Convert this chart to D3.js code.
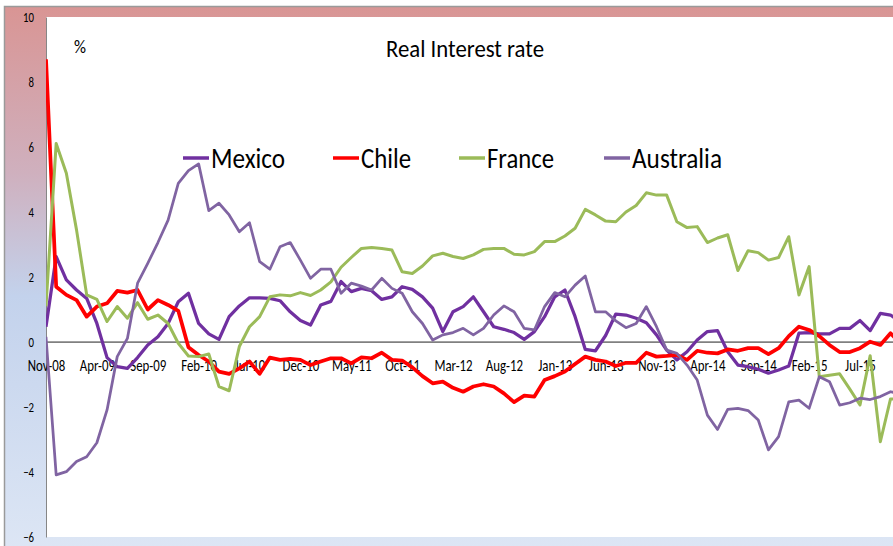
<!DOCTYPE html>
<html>
  <head>
    <title>Real Interest rate</title>
    <script src="https://d3js.org/d3.v7.min.js" charset="utf-8"></script>
    <style type="text/css">
      body { margin: 0; background: #ffffff; }
      text { font-family: Carlito, Calibri, Lato, sans-serif; fill: #000000; }
    </style>
  </head>

  <body>
    <script type="text/javascript">

      // Monthly data, Nov-08 onwards
      var mexico = [0.47, 2.63, 1.91, 1.6, 1.34, 0.57, -0.48, -0.76, -0.81, -0.48,
        -0.09, 0.16, 0.57, 1.24, 1.5, 0.57, 0.25, 0.08, 0.78, 1.11,
        1.36, 1.36, 1.34, 1.27, 0.93, 0.66, 0.52, 1.14, 1.25, 1.86,
        1.55, 1.65, 1.58, 1.31, 1.39, 1.7, 1.62, 1.39, 1.04, 0.32,
        0.93, 1.09, 1.39, 0.93, 0.47, 0.39, 0.29, 0.08, 0.32, 0.78,
        1.39, 1.6, 0.78, -0.23, -0.27, 0.2, 0.86, 0.83, 0.73, 0.59,
        0.22, -0.25, -0.55, -0.3, 0.06, 0.32, 0.35, -0.3, -0.71, -0.76,
        -0.84, -0.96, -0.86, -0.74, 0.27, 0.29, 0.25, 0.25, 0.42, 0.42,
        0.66, 0.35, 0.88, 0.83, 0.6];
      var chile = [8.7, 1.7, 1.45, 1.29, 0.78, 1.09, 1.19, 1.57, 1.52, 1.6,
        1.0, 1.29, 1.14, 0.96, -0.16, -0.4, -0.6, -0.91, -0.98, -0.81,
        -0.6, -0.98, -0.48, -0.55, -0.52, -0.55, -0.71, -0.6, -0.5, -0.5,
        -0.66, -0.47, -0.5, -0.33, -0.55, -0.57, -0.78, -1.05, -1.27, -1.22,
        -1.41, -1.53, -1.37, -1.3, -1.37, -1.58, -1.85, -1.65, -1.68, -1.17,
        -1.05, -0.91, -0.68, -0.45, -0.55, -0.6, -0.74, -0.64, -0.64, -0.33,
        -0.45, -0.43, -0.4, -0.55, -0.27, -0.33, -0.35, -0.23, -0.27, -0.19,
        -0.19, -0.37, -0.19, 0.18, 0.47, 0.37, 0.18, -0.09, -0.31, -0.31,
        -0.19, 0.01, -0.09, 0.27, -0.05];
      var france = [1.1, 6.11, 5.19, 3.45, 1.45, 1.31, 0.63, 1.09, 0.73, 1.21,
        0.7, 0.83, 0.57, -0.04, -0.43, -0.45, -0.37, -1.37, -1.5, -0.14,
        0.47, 0.78, 1.39, 1.45, 1.42, 1.52, 1.43, 1.6, 1.85, 2.3,
        2.6, 2.88, 2.91, 2.88, 2.83, 2.16, 2.11, 2.34, 2.65, 2.73,
        2.63, 2.57, 2.68, 2.85, 2.88, 2.88, 2.7, 2.68, 2.78, 3.09,
        3.09, 3.26, 3.5, 4.08, 3.91, 3.72, 3.7, 4.0, 4.2, 4.59,
        4.52, 4.52, 3.7, 3.52, 3.55, 3.06, 3.2, 3.3, 2.2, 2.81,
        2.75, 2.52, 2.6, 3.24, 1.45, 2.32, -1.07, -1.02, -0.98, -1.45,
        -1.94, -0.42, -3.07, -1.75, -1.75];
      var australia = [0.16, -4.09, -3.99, -3.68, -3.53, -3.1, -2.09, -0.45, 0.11, 1.81,
        2.42, 3.06, 3.75, 4.88, 5.27, 5.48, 4.04, 4.27, 3.91, 3.39,
        3.67, 2.47, 2.24, 2.93, 3.06, 2.52, 1.96, 2.24, 2.24, 1.5,
        1.81, 1.72, 1.6, 1.96, 1.65, 1.5, 0.93, 0.57, 0.06, 0.22,
        0.29, 0.42, 0.22, 0.42, 0.83, 1.11, 0.93, 0.42, 0.37, 1.09,
        1.52, 1.39, 1.75, 2.03, 0.93, 0.93, 0.65, 0.44, 0.57, 1.09,
        0.47, -0.25, -0.35, -0.71, -1.17, -2.25, -2.69, -2.07, -2.04, -2.11,
        -2.4, -3.32, -2.91, -1.84, -1.79, -2.04, -1.07, -1.22, -1.94, -1.87,
        -1.73, -1.77, -1.68, -1.53, -1.6];

      // category labels (one per month) and the ones shown on the axis
      var fmt = d3.timeFormat("%b-%y");
      var months = d3.timeMonth.range(new Date(2008, 10, 1), new Date(2015, 11, 1)).map(fmt);
      var tickLabels = ["Nov-08", "Apr-09", "Sep-09", "Feb-10", "Jul-10", "Dec-10", "May-11",
        "Oct-11", "Mar-12", "Aug-12", "Jan-13", "Jun-13", "Nov-13", "Apr-14", "Sep-14",
        "Feb-15", "Jul-15"];
      var yTicks = [-6, -4, -2, 0, 2, 4, 6, 8, 10];

      var series = [
        { name: "Mexico", values: mexico, color: "#7030A0", width: 3.25 },
        { name: "Chile", values: chile, color: "#FF0000", width: 3.75 },
        { name: "France", values: france, color: "#9BBB59", width: 3 },
        { name: "Australia", values: australia, color: "#8064A2", width: 2.75 }
      ];

      // note: "top" is taken by window.top, so use plot* names
      var width = 893, height = 546;
      var plotLeft = 46, plotTop = 17, plotBottom = 537;

      var svg = d3.select("body").append("svg")
          .attr("width", width)
          .attr("height", height);

      // background gradient (pink at the top, blue towards the bottom)
      var grad = svg.append("defs").append("linearGradient")
          .attr("id", "bg").attr("x1", 0).attr("y1", 0).attr("x2", 0).attr("y2", 1);
      grad.append("stop").attr("offset", "0%").attr("stop-color", "#D99594");
      grad.append("stop").attr("offset", "30%").attr("stop-color", "#CFB0BE");
      grad.append("stop").attr("offset", "52%").attr("stop-color", "#C3D2EC");
      grad.append("stop").attr("offset", "100%").attr("stop-color", "#DEE7F5");

      svg.append("clipPath").attr("id", "plotclip")
        .append("rect")
          .attr("x", plotLeft).attr("y", plotTop)
          .attr("width", width - plotLeft).attr("height", plotBottom - plotTop);

      svg.append("rect")
          .attr("x", 4.5).attr("y", 6.5)
          .attr("width", width + 10).attr("height", height + 10)
          .style("fill", "url(#bg)")
          .style("stroke", "#9A9A9A")
          .style("stroke-width", 1.5);

      svg.append("rect")
          .attr("x", plotLeft).attr("y", plotTop)
          .attr("width", width - plotLeft + 10).attr("height", plotBottom - plotTop)
          .style("fill", "#ffffff");

      // scales
      var x = d3.scalePoint()
          .domain(months)
          .range([plotLeft, plotLeft + 10.175 * (months.length - 1)]);

      var y = d3.scaleLinear()
          .domain([-6, 10])
          .range([plotBottom, plotTop]);

      // y axis
      var yAxis = svg.append("g")
          .attr("transform", "translate(" + plotLeft + ",0)")
          .call(d3.axisLeft(y).tickValues(yTicks).tickSize(0).tickPadding(0));
      yAxis.select(".domain").style("stroke", "#868686").style("stroke-width", 1);
      yAxis.selectAll("text")
          .attr("x", 0)
          .attr("transform", "translate(-12,0) scale(0.8,1)")
          .style("font-size", "13.5px")
          .style("fill", "#000");

      // zero line
      svg.append("line")
          .attr("x1", plotLeft).attr("x2", width)
          .attr("y1", y(0)).attr("y2", y(0))
          .style("stroke", "#808080")
          .style("stroke-width", 1.75);

      // x axis labels, sitting just under the zero line
      var xAxis = svg.append("g")
          .attr("transform", "translate(0," + y(0) + ")")
          .call(d3.axisBottom(x).tickValues(tickLabels).tickSize(0).tickPadding(17));
      xAxis.select(".domain").remove();
      xAxis.selectAll("text")
          .attr("transform", "scale(0.78,1)")
          .style("font-size", "16.5px")
          .style("fill", "#000");

      // series lines
      var line = d3.line()
          .x(function(d, i) { return x(months[i]); })
          .y(function(d) { return y(d); });

      svg.append("g")
          .attr("clip-path", "url(#plotclip)")
        .selectAll("path")
        .data(series)
        .enter().append("path")
          .attr("d", function(d) { return line(d.values); })
          .style("fill", "none")
          .style("stroke", function(d) { return d.color; })
          .style("stroke-width", function(d) { return d.width; })
          .style("stroke-linejoin", "round");

      // title and unit
      svg.append("text")
          .attr("x", 386).attr("y", 57)
          .attr("textLength", 158).attr("lengthAdjust", "spacingAndGlyphs")
          .style("font-size", "24.5px")
          .text("Real Interest rate");

      svg.append("text")
          .attr("x", 74).attr("y", 53)
          .attr("textLength", 12).attr("lengthAdjust", "spacingAndGlyphs")
          .style("font-size", "19px")
          .text("%");

      // legend
      var legendX = [183, 333, 459, 604];
      var legendW = [74, 50, 67, 90];
      var legend = svg.selectAll(".legend")
          .data(series)
          .enter().append("g")
          .attr("class", "legend")
          .attr("transform", function(d, i) { return "translate(" + legendX[i] + ",158)"; });

      legend.append("line")
          .attr("x1", 0).attr("x2", 26)
          .attr("y1", 0).attr("y2", 0)
          .style("stroke", function(d) { return d.color; })
          .style("stroke-width", 3.5);

      legend.append("text")
          .attr("x", 28).attr("y", 10)
          .attr("textLength", function(d, i) { return legendW[i]; })
          .attr("lengthAdjust", "spacingAndGlyphs")
          .style("font-size", "28px")
          .text(function(d) { return d.name; });

    </script>
  </body>
</html>
